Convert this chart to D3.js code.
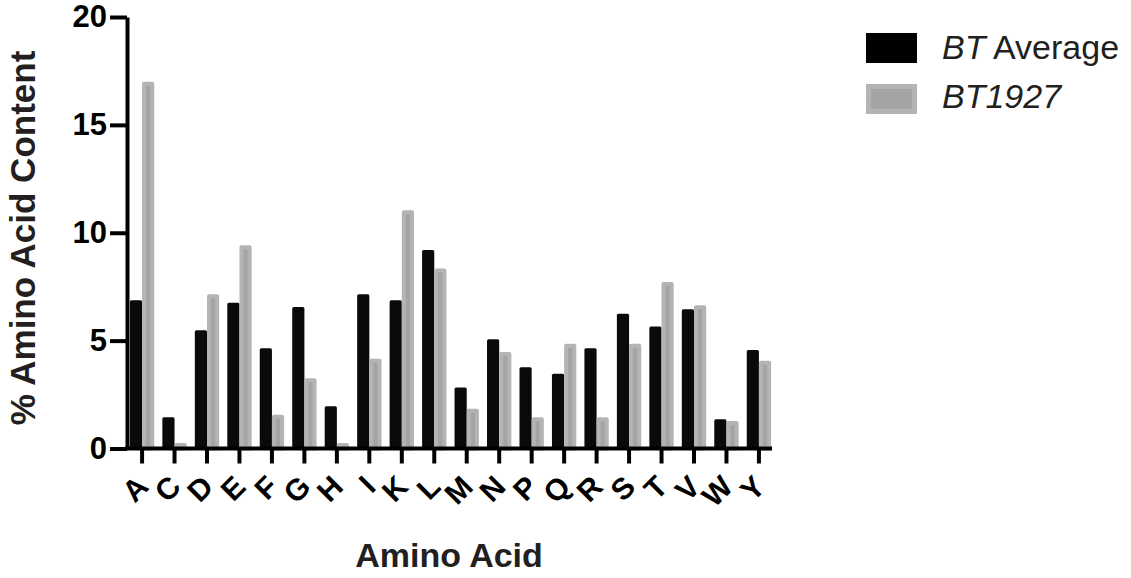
<!DOCTYPE html>
<html>
<head>
<meta charset="utf-8">
<script src="https://cdn.jsdelivr.net/npm/d3@7"></script>
<style>
	body { margin: 0; background: #fff; }
	svg { display: block; font-family: 'Liberation Sans', Arial, sans-serif; }
</style>
</head>
<body>
<svg id="chart" width="1131" height="578"></svg>
<script>
const aminoAcids = ['A', 'C', 'D', 'E', 'F', 'G', 'H', 'I', 'K', 'L', 'M', 'N', 'P', 'Q', 'R', 'S', 'T', 'V', 'W', 'Y'];
const btAverage = [6.87, 1.45, 5.48, 6.76, 4.65, 6.56, 1.96, 7.15, 6.87, 9.2, 2.83, 5.06, 3.77, 3.47, 4.65, 6.25, 5.65, 6.46, 1.35, 4.56];
const bt1927 = [17.0, 0.26, 7.15, 9.42, 1.56, 3.26, 0.26, 4.16, 11.04, 8.34, 1.84, 4.47, 1.45, 4.86, 1.45, 4.86, 7.72, 6.64, 1.27, 4.07];
const yTicks = [0, 5, 10, 15, 20];
const seriesNames = ['avg', 'bt1927'];

const svg = d3.select('#chart');

// scales
const y = d3.scaleLinear().domain([0, 20]).range([448.5, 17]);
const x0 = d3.scaleBand().domain(aminoAcids).range([126, 775]).paddingInner(0.25).paddingOuter(0.12);
const x1 = d3.scaleBand().domain(seriesNames).range([0, x0.bandwidth()]);

const rows = aminoAcids.map((aa, i) => ({ aa, avg: btAverage[i], bt1927: bt1927[i] }));

// bars
const groups = svg.append('g')
	.selectAll('g')
	.data(rows)
	.join('g')
		.attr('transform', (d) => `translate(${ x0(d.aa) }, 0)`);

groups.append('rect')
	.attr('x', x1('avg'))
	.attr('y', (d) => y(d.avg))
	.attr('width', x1.bandwidth())
	.attr('height', (d) => y(0) - y(d.avg))
	.attr('rx', 1.5)
	.attr('fill', '#0a0a0a');

groups.append('rect')
	.attr('x', x1('bt1927') + 2)
	.attr('y', (d) => y(d.bt1927) + 2)
	.attr('width', x1.bandwidth() - 4)
	.attr('height', (d) => Math.max(0, y(0) - y(d.bt1927) - 2))
	.attr('fill', '#a4a4a7')
	.attr('stroke', '#b4b4b4')
	.attr('stroke-width', 4)
	.attr('stroke-linejoin', 'round');

// y axis
const yAxis = svg.append('g')
	.attr('transform', 'translate(127, 0)')
	.call(d3.axisLeft(y).tickValues(yTicks).tickSize(17).tickSizeOuter(0).tickPadding(3));
yAxis.select('.domain').attr('stroke', '#000').attr('stroke-width', 4);
yAxis.selectAll('.tick line').attr('stroke', '#000').attr('stroke-width', 4);
yAxis.selectAll('.tick text')
	.attr('font-size', 31)
	.attr('font-weight', 'bold')
	.attr('fill', '#000')
	.attr('font-family', "'Liberation Sans', Arial, sans-serif");

// x axis
const xAxis = svg.append('g')
	.attr('transform', `translate(0, ${ y(0) })`)
	.call(d3.axisBottom(x0).tickSize(15).tickSizeOuter(0));
xAxis.select('.domain').attr('stroke', '#000').attr('stroke-width', 4).attr('d', 'M125,0H772');
xAxis.selectAll('.tick line').attr('stroke', '#000').attr('stroke-width', 4);
xAxis.selectAll('.tick text')
	.attr('font-size', 30)
	.attr('font-weight', 'bold')
	.attr('fill', '#000')
	.attr('font-family', "'Liberation Sans', Arial, sans-serif")
	.attr('text-anchor', 'end')
	.attr('dy', null)
	.attr('y', null)
	.attr('transform', 'translate(8, 40) rotate(-45)');

// axis titles
svg.append('text')
	.attr('transform', 'translate(35, 238) rotate(-90)')
	.attr('text-anchor', 'middle')
	.attr('font-size', 35)
	.attr('font-weight', 'bold')
	.attr('fill', '#231f20')
	.text('% Amino Acid Content');

svg.append('text')
	.attr('x', 449)
	.attr('y', 567)
	.attr('text-anchor', 'middle')
	.attr('font-size', 34)
	.attr('font-weight', 'bold')
	.attr('fill', '#231f20')
	.text('Amino Acid');

// legend
const legend = svg.append('g').attr('transform', 'translate(866, 33)');
legend.append('rect')
	.attr('width', 51).attr('height', 30)
	.attr('fill', '#000');
legend.append('rect')
	.attr('x', 2.5).attr('y', 53.5)
	.attr('width', 46).attr('height', 25)
	.attr('fill', '#a4a4a7')
	.attr('stroke', '#b4b4b4')
	.attr('stroke-width', 5);

const l1 = legend.append('text')
	.attr('x', 76).attr('y', 26)
	.attr('font-size', 34)
	.attr('fill', '#231f20');
l1.append('tspan').attr('font-style', 'italic').text('BT');
l1.append('tspan').text(' Average');

legend.append('text')
	.attr('x', 76).attr('y', 75)
	.attr('font-size', 34)
	.attr('font-style', 'italic')
	.attr('fill', '#231f20')
	.text('BT1927');
</script>
</body>
</html>
